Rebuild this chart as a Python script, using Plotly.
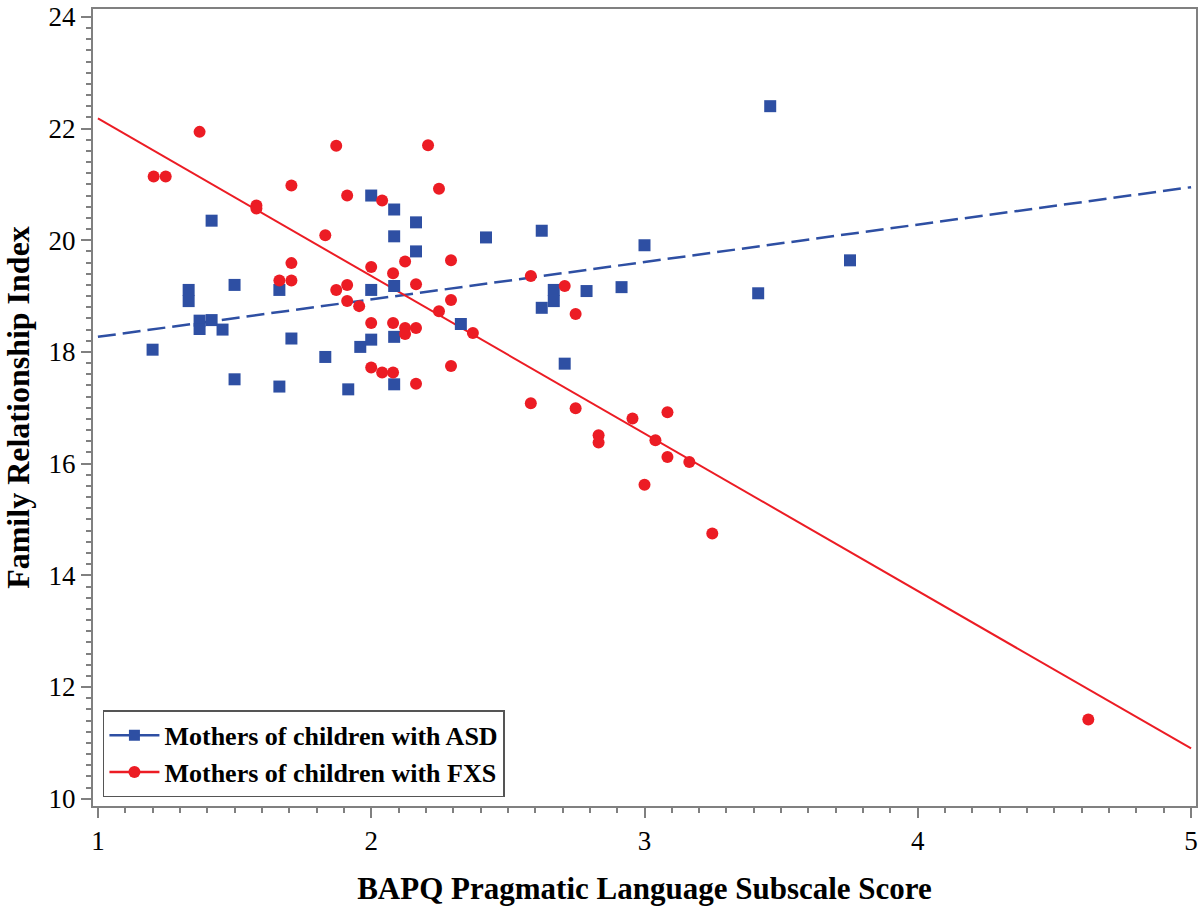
import plotly.graph_objects as go

# BAPQ pragmatic language score vs. family relationship index
asd_x = [1.200, 1.332, 1.332, 1.372, 1.372, 1.416, 1.416, 1.456, 1.500, 1.500,
         1.664, 1.664, 1.708, 1.832, 1.916, 1.960, 2.000, 2.000, 2.000, 2.084,
         2.084, 2.084, 2.084, 2.084, 2.164, 2.164, 2.328, 2.420, 2.624, 2.624,
         2.668, 2.668, 2.708, 2.788, 2.916, 3.000, 3.416, 3.460, 3.752]
asd_y = [18.04, 19.11, 18.91, 18.56, 18.41, 18.57, 20.35, 18.40, 19.20, 17.51,
         19.11, 17.38, 18.24, 17.91, 17.33, 18.09, 20.80, 19.11, 18.22, 20.55,
         20.07, 19.18, 18.27, 17.42, 20.32, 19.80, 18.50, 20.05, 20.17, 18.79,
         19.11, 18.91, 17.79, 19.09, 19.16, 19.91, 19.05, 22.40, 19.64]

fxs_x = [1.204, 1.248, 1.372, 1.580, 1.580, 1.708, 1.664, 1.708, 1.708, 1.832,
         1.872, 1.872, 1.912, 1.912, 1.912, 1.956, 2.000, 2.000, 2.000, 2.040,
         2.040, 2.080, 2.080, 2.080, 2.124, 2.124, 2.124, 2.164, 2.164, 2.164,
         2.208, 2.248, 2.248, 2.292, 2.292, 2.292, 2.372, 2.584, 2.708, 2.748,
         2.584, 2.748, 2.832, 2.832, 2.956, 3.084, 3.040, 3.084, 3.164, 3.000,
         3.248, 4.624]
fxs_y = [21.14, 21.14, 21.94, 20.62, 20.57, 20.98, 19.28, 19.28, 19.59, 20.09,
         21.69, 19.11, 20.80, 19.20, 18.91, 18.82, 19.52, 18.52, 17.72, 20.71,
         17.63, 19.41, 18.52, 17.63, 19.62, 18.43, 18.32, 19.21, 18.43, 17.43,
         21.70, 20.92, 18.73, 19.64, 18.93, 17.75, 18.34, 19.36, 19.18, 18.68,
         17.08, 16.99, 16.51, 16.38, 16.81, 16.92, 16.42, 16.12, 16.03, 15.62,
         14.75, 11.42]

# fitted regression lines, read at the axis ends
fit_x = [1, 5]
asd_fit_y = [18.27, 20.95]
fxs_fit_y = [22.18, 10.90]

BLUE = '#2E4FA3'
RED = '#EC1C24'
FONT = 'Liberation Serif'

fig = go.Figure()

fig.add_trace(go.Scatter(x=fit_x, y=asd_fit_y, mode='lines', showlegend=False,
                         line=dict(color=BLUE, width=2.5, dash='18px,7px')))
fig.add_trace(go.Scatter(x=fit_x, y=fxs_fit_y, mode='lines', showlegend=False,
                         line=dict(color=RED, width=2)))
fig.add_trace(go.Scatter(x=asd_x, y=asd_y, mode='markers', showlegend=False,
                         marker=dict(symbol='square', size=12, color=BLUE, line_width=0)))
fig.add_trace(go.Scatter(x=fxs_x, y=fxs_y, mode='markers', showlegend=False,
                         marker=dict(symbol='circle', size=12, color=RED, line_width=0)))

# legend entries
fig.add_trace(go.Scatter(x=[None], y=[None], mode='lines+markers',
                         name='Mothers of children with ASD',
                         line=dict(color=BLUE, width=2.5),
                         marker=dict(symbol='square', size=11, color=BLUE)))
fig.add_trace(go.Scatter(x=[None], y=[None], mode='lines+markers',
                         name='Mothers of children with FXS',
                         line=dict(color=RED, width=2.5),
                         marker=dict(symbol='circle', size=12, color=RED)))

axis_style = dict(
    showline=True, linecolor='#808080', linewidth=2, mirror=True,
    ticks='outside', tickcolor='#808080', tickwidth=2, ticklen=10,
    showgrid=False, zeroline=False, ticklabeloverflow='allow',
    tickfont=dict(family=FONT, size=27, color='black'),
)

fig.update_xaxes(
    range=[0.982, 5.018], tickvals=[1, 2, 3, 4, 5],
    title=dict(text='BAPQ Pragmatic Language Subscale Score', standoff=22,
               font=dict(family=FONT, size=31, color='black', weight='bold')),
    minor=dict(dtick=0.1, ticks='outside', ticklen=5, tickcolor='#808080', tickwidth=2),
    **axis_style
)
fig.update_yaxes(
    range=[9.87, 24.14], tickvals=[10, 12, 14, 16, 18, 20, 22, 24],
    title=dict(text='Family Relationship Index', standoff=12,
               font=dict(family=FONT, size=32, color='black', weight='bold')),
    minor=dict(dtick=0.2, ticks='outside', ticklen=5, tickcolor='#808080', tickwidth=2),
    **axis_style
)

fig.update_layout(
    width=1200, height=907,
    margin=dict(l=93, r=2, t=4, b=101),
    plot_bgcolor='white', paper_bgcolor='white',
    legend=dict(x=0.009, y=0.011, xanchor='left', yanchor='bottom',
                bgcolor='white', bordercolor='#555555', borderwidth=1.5,
                font=dict(family=FONT, size=26, color='black', weight='bold'),
                itemwidth=50),
)

# page body has a default 8px margin; drop it so the figure sits at 0,0
fig.write_html("out.html", config={'displayModeBar': False},
               post_script="document.body.style.margin='0';")
